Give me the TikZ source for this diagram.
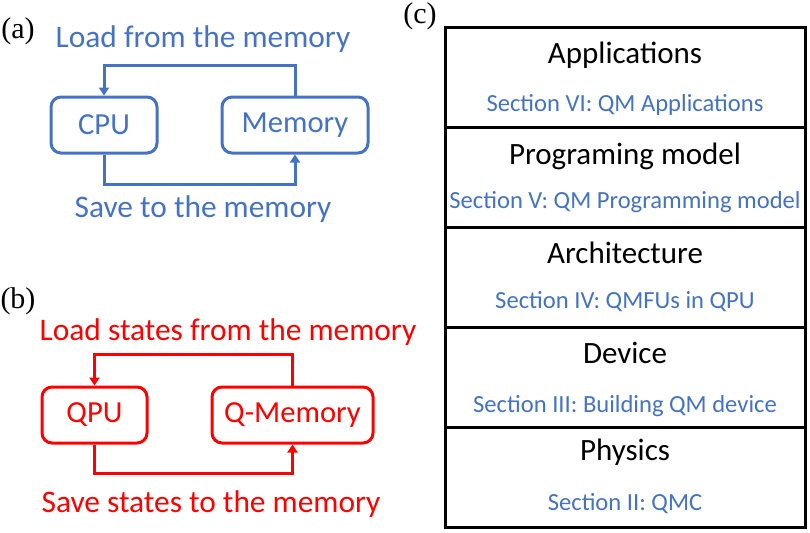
\documentclass[tikz,border=0pt]{standalone}
\usepackage{fontspec}
\setmainfont{Carlito}
\newfontfamily\tagfont{Liberation Serif}
\usetikzlibrary{arrows.meta,positioning,calc}
\definecolor{cblue}{HTML}{4472C4}
\definecolor{qred}{HTML}{FF0000}

\begin{document}
\begin{tikzpicture}[
    x=0.5pt, y=-0.5pt,
    tag/.style={font=\tagfont\fontsize{15}{17}\selectfont, inner sep=0pt},
    unit/.style={draw, rounded corners=5pt, line width=1.5pt, inner sep=0pt,
                 minimum height=28pt, font=\fontsize{15.3}{18}\selectfont},
    flowtext/.style={anchor=base, inner sep=0pt, font=\fontsize{15.7}{18}\selectfont},
    flow/.style={line width=1.5pt, -{Triangle[width=5pt,length=4pt]}},
    layer/.style={draw, line width=1.5pt, outer sep=0pt, minimum width=180pt,
                  minimum height=50pt, inner sep=0pt},
    layertitle/.style={anchor=base, inner sep=0pt, font=\fontsize{15.5}{18}\selectfont},
    layersec/.style={anchor=base, inner sep=0pt, text=cblue, font=\fontsize{12.3}{14}\selectfont},
  ]
\useasboundingbox (0,0) rectangle (810,532);

% (a) classical
\node[tag] (taga) at (18,31) {(a)};
\node[unit, draw=cblue, text=cblue, minimum width=53pt] (cpu) at (104,125) {CPU};
\node[unit, draw=cblue, text=cblue, minimum width=73pt] (mem) at (295,125) {Memory};
\draw[flow, cblue] (mem.north) -- ++(0,-30) -| (cpu.north);
\draw[flow, cblue] (cpu.south) -- ++(0,30) -| (mem.south);
\node[flowtext, text=cblue] (loada) at (203,47) {Load from the memory};
\node[flowtext, text=cblue] (savea) at (203,217) {Save to the memory};

% (b) quantum
\node[tag] (tagb) at (18,301) {(b)};
\node[unit, draw=qred, text=qred, minimum width=52.5pt] (qpu) at (94.5,415) {QPU};
\node[unit, draw=qred, text=qred, minimum width=80.5pt] (qmem) at (292.5,415) {Q-Memory};
\draw[flow, qred] (qmem.north) -- ++(0,-31) -| (qpu.north);
\draw[flow, qred] (qpu.south) -- ++(0,29) -| (qmem.south);
\node[flowtext, text=qred] (loadb) at (228,340) {Load states from the memory};
\node[flowtext, text=qred] (saveb) at (211,512) {Save states to the memory};

% (c) stack
\node[tag] (tagc) at (420,16) {(c)};
\node[layer, anchor=north] (app) at (625,27) {};
\node[layer, below=0pt of app] (prog) {};
\node[layer, below=0pt of prog] (arch) {};
\node[layer, below=0pt of arch] (dev) {};
\node[layer, below=0pt of dev] (phys) {};

\node[layertitle] at ($(app.north)+(0,36)$) {Applications};
\node[layersec] at ($(app.north)+(0,84)$) {Section VI: QM Applications};
\node[layertitle] at ($(prog.north)+(0,37)$) {Programing model};
\node[layersec] at ($(prog.north)+(0,81)$) {Section V: QM Programming model};
\node[layertitle] at ($(arch.north)+(0,36)$) {Architecture};
\node[layersec] at ($(arch.north)+(0,81)$) {Section IV: QMFUs in QPU};
\node[layertitle] at ($(dev.north)+(0,36)$) {Device};
\node[layersec] at ($(dev.north)+(0,85)$) {Section III: Building QM device};
\node[layertitle] at ($(phys.north)+(0,33)$) {Physics};
\node[layersec] at ($(phys.north)+(0,83)$) {Section II: QMC};

\end{tikzpicture}
\end{document}
